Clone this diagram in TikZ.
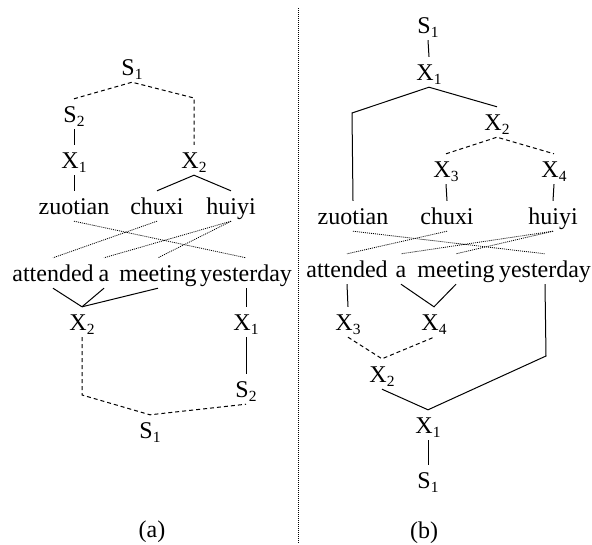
\documentclass[tikz,border=0pt]{standalone}
\usepackage{fontspec}
\setmainfont{Liberation Serif}
\newcommand\sbs[1]{\raisebox{-4.5pt}{\fontsize{15.5}{15.5}\selectfont #1}}
\begin{document}
\begin{tikzpicture}[x=1pt,y=-1pt,
  w/.style={anchor=base,inner xsep=0pt,inner ysep=7pt,text height=16pt,text depth=0pt,font=\fontsize{24}{24}\selectfont},
  ln/.style={line width=1pt},
  dsh/.style={line width=1pt,dash pattern=on 4pt off 3pt},
  dtt/.style={line width=0.8pt,dash pattern=on 1pt off 1pt}]
\useasboundingbox[fill=white] (0,0) rectangle (592,544);
% divider
\draw[dtt] (298,8) -- (298,544);
% ---------- panel (a) ----------
\node[w] (aS1t) at (132,75) {S\sbs{1}};
\node[w] (aS2) at (74,122) {S\sbs{2}};
\node[w] (aX1) at (74,168) {X\sbs{1}};
\node[w] (aX2t) at (194,168) {X\sbs{2}};
\node[w] (azuo) at (74,214) {zuotian};
\node[w] (achu) at (157,214) {chuxi};
\node[w] (ahui) at (231,214) {huiyi};
\node[w] (aatt) at (53,281) {attended};
\node[w] (aa) at (104,281) {a};
\node[w] (amee) at (158,281) {meeting};
\node[w] (ayes) at (246,281) {yesterday};
\node[w] (aX2b) at (82,330) {X\sbs{2}};
\node[w] (aX1b) at (246,330) {X\sbs{1}};
\node[w] (aS2b) at (246,397) {S\sbs{2}};
\node[w] (aS1b) at (150,438) {S\sbs{1}};
\node[w] (alab) at (152,537) {(a)};
\coordinate (aR) at (194,98);
\coordinate (aL) at (82,395);
\draw[dsh] (aS2.north) -- (aS1t.south) -- (aR) -- (aX2t.north);
\draw[ln] (aS2.south) -- (aX1.north);
\draw[ln] (aX1.south) -- (azuo.north);
\draw[ln] (achu.north) -- (aX2t.south) -- (ahui.north);
\draw[dtt] (azuo.south) -- (ayes.north);
\draw[dtt] (achu.south) -- (aatt.north);
\draw[dtt] (ahui.south) -- (aa.north);
\draw[dtt] (ahui.south) -- (amee.north);
\draw[ln] (aatt.south) -- (aX2b.north);
\draw[ln] (aa.south) -- (aX2b.north);
\draw[ln] (amee.south) -- (aX2b.north);
\draw[ln] (ayes.south) -- (aX1b.north);
\draw[ln] (aX1b.south) -- (aS2b.north);
\draw[dsh] (aX2b.south) -- (aL) -- (aS1b.north) -- (aS2b.south);
% ---------- panel (b) ----------
\node[w] (bS1t) at (428,33) {S\sbs{1}};
\node[w] (bX1t) at (429,80) {X\sbs{1}};
\node[w] (bX2t) at (497,130) {X\sbs{2}};
\node[w] (bX3) at (446,177) {X\sbs{3}};
\node[w] (bX4) at (554,177) {X\sbs{4}};
\node[w] (bzuo) at (353,224) {zuotian};
\node[w] (bchu) at (447,224) {chuxi};
\node[w] (bhui) at (553,224) {huiyi};
\node[w] (batt) at (347,277) {attended};
\node[w] (ba) at (401,277) {a};
\node[w] (bmee) at (456,277) {meeting};
\node[w] (byes) at (545,277) {yesterday};
\node[w] (bX3b) at (348,330) {X\sbs{3}};
\node[w] (bX4b) at (434,330) {X\sbs{4}};
\node[w] (bX2b) at (382,382) {X\sbs{2}};
\node[w] (bX1b) at (428,433) {X\sbs{1}};
\node[w] (bS1b) at (428,488) {S\sbs{1}};
\node[w] (blab) at (424,538) {(b)};
\coordinate (bTL) at (352,113);
\coordinate (bBR) at (546,356);
\draw[ln] (bS1t.south) -- (bX1t.north);
\draw[ln] (bzuo.north) -- (bTL) -- (bX1t.south) -- (bX2t.north);
\draw[dsh] (bX3.north) -- (bX2t.south) -- (bX4.north);
\draw[ln] (bX3.south) -- (bchu.north);
\draw[ln] (bX4.south) -- (bhui.north);
\draw[dtt] (bzuo.south) -- (byes.north);
\draw[dtt] (bchu.south) -- (batt.north);
\draw[dtt] (bhui.south) -- (ba.north);
\draw[dtt] (bhui.south) -- (bmee.north);
\draw[ln] (batt.south) -- (bX3b.north);
\draw[ln] (ba.south) -- (bX4b.north) -- (bmee.south);
\draw[dsh] (bX3b.south) -- (bX2b.north) -- (bX4b.south);
\draw[ln] (bX2b.south) -- (bX1b.north) -- (bBR) -- (byes.south);
\draw[ln] (bX1b.south) -- (bS1b.north);
\end{tikzpicture}
\end{document}
